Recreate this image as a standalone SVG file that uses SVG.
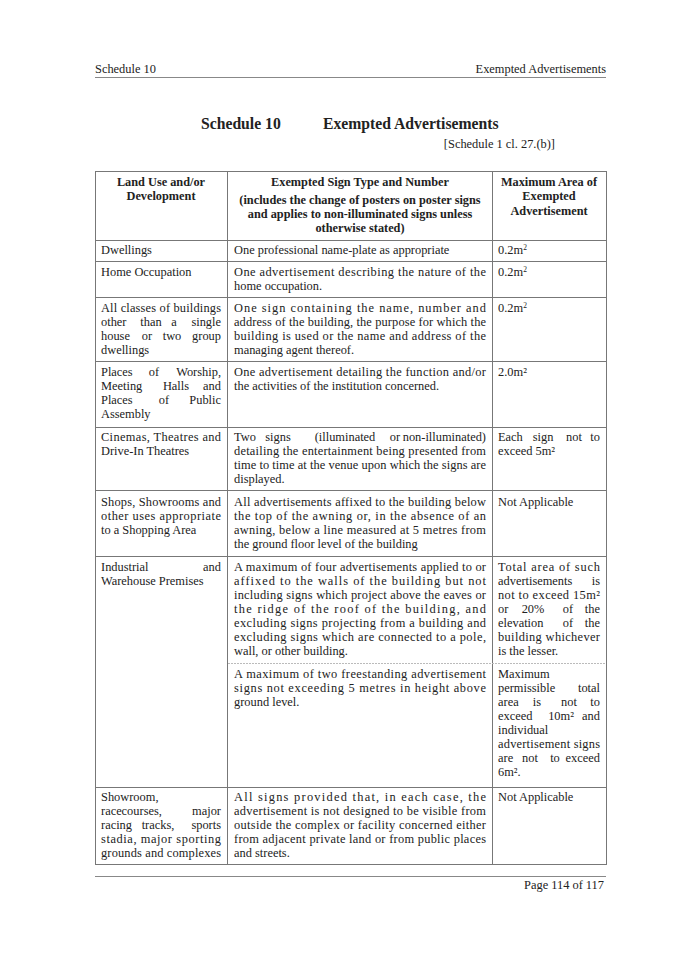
<svg xmlns="http://www.w3.org/2000/svg" width="675" height="955" viewBox="0 0 675 955">
<style>
text{font-family:"Liberation Serif","Times New Roman",serif;font-size:12.4px;fill:#222}
.b{font-weight:bold;font-size:12.3px}
.t{font-weight:bold;font-size:15.7px}
.h{font-size:12.4px}
.m{text-anchor:middle}
.e{text-anchor:end}
.ln{stroke:#777;stroke-width:1;fill:none}
.dl{stroke:#bbb;stroke-width:1;stroke-dasharray:2 1}
.s{font-size:7.5px}
</style>
<rect width="675" height="955" fill="#fff"/>
<g id="page-header">
<text class="h" x="95" y="73">Schedule 10</text>
<text class="h e" x="606" y="73">Exempted Advertisements</text>
<line x1="95" y1="77.5" x2="606" y2="77.5" stroke="#888"/>
<text class="t" x="201" y="129">Schedule 10</text>
<text class="t" x="323" y="129">Exempted Advertisements</text>
<text class="e" x="555" y="148">[Schedule 1 cl. 27.(b)]</text>
</g>
<g id="table-lines">
<rect class="ln" x="95.5" y="171.5" width="511" height="693"/>
<line class="ln" x1="227.5" y1="171" x2="227.5" y2="864"/>
<line class="ln" x1="492.5" y1="171" x2="492.5" y2="864"/>
<line class="ln" x1="95" y1="240.5" x2="606" y2="240.5"/>
<line class="ln" x1="95" y1="261.5" x2="606" y2="261.5"/>
<line class="ln" x1="95" y1="297.5" x2="606" y2="297.5"/>
<line class="ln" x1="95" y1="361.5" x2="606" y2="361.5"/>
<line class="ln" x1="95" y1="427.5" x2="606" y2="427.5"/>
<line class="ln" x1="95" y1="490.5" x2="606" y2="490.5"/>
<line class="ln" x1="95" y1="556.5" x2="606" y2="556.5"/>
<line class="dl" x1="228" y1="663.5" x2="606" y2="663.5"/>
<line class="ln" x1="95" y1="787.5" x2="606" y2="787.5"/>
</g>
<g id="header-row">
<text class="b m" x="161" y="186">Land Use and/or</text>
<text class="b m" x="161" y="200">Development</text>
<text class="b m" x="360" y="186">Exempted Sign Type and Number</text>
<text class="b m" x="360" y="204">(includes the change of posters on poster signs</text>
<text class="b m" x="360" y="218">and applies to non-illuminated signs unless</text>
<text class="b m" x="360" y="232">otherwise stated)</text>
<text class="b m" x="549" y="186">Maximum Area of</text>
<text class="b m" x="549" y="200">Exempted</text>
<text class="b m" x="549" y="215">Advertisement</text>
</g>
<g id="row-dwellings">
<text x="101" y="254">Dwellings</text>
<text x="234" y="254">One professional name-plate as appropriate</text>
<text x="498" y="254">0.2m<tspan class="s" dy="-4">2</tspan></text>
</g>
<g id="row-home">
<text x="101" y="276">Home Occupation</text>
<text x="234" y="276" textLength="252" lengthAdjust="spacing">One advertisement describing the nature of the</text>
<text x="234" y="290">home occupation.</text>
<text x="498" y="276">0.2m<tspan class="s" dy="-4">2</tspan></text>
</g>
<g id="row-allclasses">
<text x="101" y="312" textLength="120" lengthAdjust="spacing">All classes of buildings</text>
<text x="101" y="326">other</text><text class="m" x="151" y="326">than</text><text class="m" x="174" y="326">a</text><text class="e" x="221" y="326">single</text>
<text x="101" y="340">house</text><text class="m" x="147" y="340">or</text><text class="m" x="172" y="340">two</text><text class="e" x="221" y="340">group</text>
<text x="101" y="354">dwellings</text>
<text x="234" y="312" textLength="252" lengthAdjust="spacing">One sign containing the name, number and</text>
<text x="234" y="326" textLength="252" lengthAdjust="spacing">address of the building, the purpose for which the</text>
<text x="234" y="340" textLength="252" lengthAdjust="spacing">building is used or the name and address of the</text>
<text x="234" y="354">managing agent thereof.</text>
<text x="498" y="312">0.2m<tspan class="s" dy="-4">2</tspan></text>
</g>
<g id="row-worship">
<text x="101" y="376">Places</text><text class="m" x="154" y="376">of</text><text class="e" x="221" y="376">Worship,</text>
<text x="101" y="390">Meeting</text><text class="m" x="176" y="390">Halls</text><text class="e" x="221" y="390">and</text>
<text x="101" y="404">Places</text><text class="m" x="164" y="404">of</text><text class="e" x="221" y="404">Public</text>
<text x="101" y="418">Assembly</text>
<text x="234" y="376" textLength="252" lengthAdjust="spacing">One advertisement detailing the function and/or</text>
<text x="234" y="390">the activities of the institution concerned.</text>
<text x="498" y="376">2.0m²</text>
</g>
<g id="row-cinemas">
<text x="101" y="441" textLength="120" lengthAdjust="spacing">Cinemas, Theatres and</text>
<text x="101" y="455">Drive-In Theatres</text>
<text x="234" y="441">Two</text><text class="m" x="278" y="441">signs</text><text class="m" x="345" y="441">(illuminated</text><text class="m" x="395" y="441">or</text><text class="e" x="486" y="441">non-illuminated)</text>
<text x="234" y="455" textLength="252" lengthAdjust="spacing">detailing the entertainment being presented from</text>
<text x="234" y="469" textLength="252" lengthAdjust="spacing">time to time at the venue upon which the signs are</text>
<text x="234" y="483">displayed.</text>
<text x="498" y="441">Each</text><text class="m" x="543" y="441">sign</text><text class="m" x="574" y="441">not</text><text class="e" x="600" y="441">to</text>
<text x="498" y="455">exceed 5m²</text>
</g>
<g id="row-shops">
<text x="101" y="506" textLength="120" lengthAdjust="spacing">Shops, Showrooms and</text>
<text x="101" y="520" textLength="120" lengthAdjust="spacing">other uses appropriate</text>
<text x="101" y="534">to a Shopping Area</text>
<text x="234" y="506" textLength="252" lengthAdjust="spacing">All advertisements affixed to the building below</text>
<text x="234" y="520" textLength="252" lengthAdjust="spacing">the top of the awning or, in the absence of an</text>
<text x="234" y="534" textLength="252" lengthAdjust="spacing">awning, below a line measured at 5 metres from</text>
<text x="234" y="548">the ground floor level of the building</text>
<text x="498" y="506">Not Applicable</text>
</g>
<g id="row-industrial">
<text x="101" y="571">Industrial</text><text class="e" x="221" y="571">and</text>
<text x="101" y="585">Warehouse Premises</text>
<text x="234" y="571" textLength="252" lengthAdjust="spacing">A maximum of four advertisements applied to or</text>
<text x="234" y="585" textLength="252" lengthAdjust="spacing">affixed to the walls of the building but not</text>
<text x="234" y="599" textLength="252" lengthAdjust="spacing">including signs which project above the eaves or</text>
<text x="234" y="613" textLength="252" lengthAdjust="spacing">the ridge of the roof of the building, and</text>
<text x="234" y="627" textLength="252" lengthAdjust="spacing">excluding signs projecting from a building and</text>
<text x="234" y="641" textLength="252" lengthAdjust="spacing">excluding signs which are connected to a pole,</text>
<text x="234" y="655">wall, or other building.</text>
<text x="498" y="571" textLength="102" lengthAdjust="spacing">Total area of such</text>
<text x="498" y="585">advertisements</text><text class="e" x="600" y="585">is</text>
<text x="498" y="599" textLength="102" lengthAdjust="spacing">not to exceed 15m²</text>
<text x="498" y="613">or</text><text class="m" x="533" y="613">20%</text><text class="m" x="568" y="613">of</text><text class="e" x="600" y="613">the</text>
<text x="498" y="627">elevation</text><text class="m" x="568" y="627">of</text><text class="e" x="600" y="627">the</text>
<text x="498" y="641" textLength="102" lengthAdjust="spacing">building whichever</text>
<text x="498" y="655">is the lesser.</text>
<text x="234" y="678" textLength="252" lengthAdjust="spacing">A maximum of two freestanding advertisement</text>
<text x="234" y="692" textLength="252" lengthAdjust="spacing">signs not exceeding 5 metres in height above</text>
<text x="234" y="706">ground level.</text>
<text x="498" y="678">Maximum</text>
<text x="498" y="692">permissible</text><text class="e" x="600" y="692">total</text>
<text x="498" y="706">area</text><text class="m" x="537" y="706">is</text><text class="m" x="569" y="706">not</text><text class="e" x="600" y="706">to</text>
<text x="498" y="720">exceed</text><text class="m" x="561" y="720">10m²</text><text class="e" x="600" y="720">and</text>
<text x="498" y="734">individual</text>
<text x="498" y="748" textLength="102" lengthAdjust="spacing">advertisement signs</text>
<text x="498" y="762">are</text><text class="m" x="530" y="762">not</text><text class="m" x="555" y="762">to</text><text class="e" x="600" y="762">exceed</text>
<text x="498" y="776">6m².</text>
</g>
<g id="row-showroom">
<text x="101" y="801">Showroom,</text>
<text x="101" y="815">racecourses,</text><text class="e" x="221" y="815">major</text>
<text x="101" y="829">racing</text><text class="m" x="158" y="829">tracks,</text><text class="e" x="221" y="829">sports</text>
<text x="101" y="843" textLength="120" lengthAdjust="spacing">stadia, major sporting</text>
<text x="101" y="857" textLength="120" lengthAdjust="spacing">grounds and complexes</text>
<text x="234" y="801" textLength="252" lengthAdjust="spacing">All signs provided that, in each case, the</text>
<text x="234" y="815" textLength="252" lengthAdjust="spacing">advertisement is not designed to be visible from</text>
<text x="234" y="829" textLength="252" lengthAdjust="spacing">outside the complex or facility concerned either</text>
<text x="234" y="843" textLength="252" lengthAdjust="spacing">from adjacent private land or from public places</text>
<text x="234" y="857">and streets.</text>
<text x="498" y="801">Not Applicable</text>
</g>
<g id="page-footer">
<line x1="95" y1="876.5" x2="606" y2="876.5" stroke="#888"/>
<text class="h e" x="604" y="889">Page 114 of 117</text>
</g>
</svg>
